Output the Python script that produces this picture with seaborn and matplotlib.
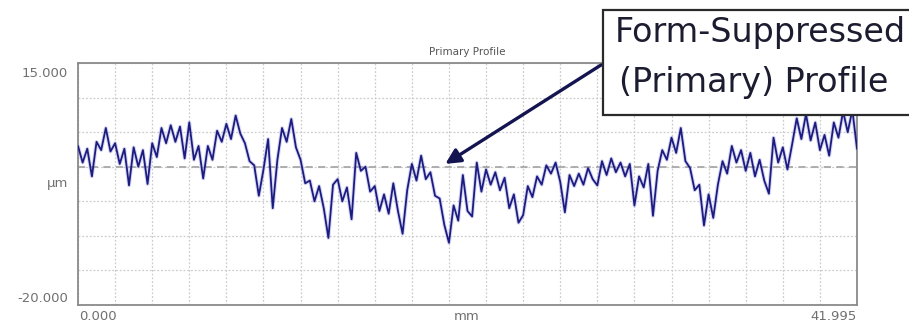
import numpy as np
import pandas as pd
import seaborn as sns
import matplotlib.pyplot as plt
from matplotlib.patches import Rectangle

profile_um = [
    3.0, 0.6, 2.6, -1.4, 3.6, 2.4, 5.6, 2.2,
    3.4, 0.4, 2.6, -2.7, 2.8, 0.0, 2.4, -2.5,
    3.4, 1.4, 5.6, 3.4, 6.0, 3.6, 5.8, 1.2,
    6.4, 1.0, 3.0, -1.7, 3.0, 1.0, 5.2, 3.6,
    6.2, 4.0, 7.4, 4.8, 3.4, 0.8, 0.2, -4.2,
    -0.4, 4.0, -6.0, 1.0, 5.6, 3.6, 6.9, 2.8,
    1.0, -2.4, -2.0, -5.0, -2.8, -6.0, -10.3, -2.6,
    -1.8, -5.0, -3.0, -7.6, 2.0, -0.6, 0.0, -3.6,
    -2.8, -6.4, -4.0, -6.8, -2.4, -6.4, -9.7, -3.4,
    0.4, -2.0, 1.6, -1.8, -0.8, -4.2, -4.6, -8.4,
    -11.0, -5.6, -7.8, -1.2, -6.4, -7.2, 0.6, -3.6,
    -0.4, -2.6, -0.8, -3.4, -1.6, -6.0, -4.0, -8.1,
    -7.0, -2.8, -4.4, -1.4, -2.6, 0.2, -1.0, 0.6,
    -2.2, -6.6, -1.2, -2.8, -1.0, -2.6, -0.2, -1.8,
    -2.7, 0.8, -1.2, 1.2, -0.8, 0.6, -1.4, 0.4,
    -5.6, -1.4, -3.0, 0.4, -7.1, -0.6, 2.4, 1.0,
    4.2, 2.0, 5.6, 0.8, -0.2, -3.4, -2.6, -8.5,
    -4.0, -7.4, -2.6, 0.8, -1.0, 3.0, 0.6, 2.4,
    -0.6, 2.0, -1.4, 1.0, -2.0, -3.9, 4.2, 0.6,
    2.8, -0.4, 3.2, 7.0, 4.0, 7.6, 3.8, 6.4,
    2.4, 4.6, 1.6, 6.4, 4.2, 8.0, 5.0, 8.2, 2.6,
]
x_start_mm = 0.0
x_end_mm = 41.995
y_min_um = -20.0
y_max_um = 15.0

df = pd.DataFrame({
    "mm": np.linspace(x_start_mm, x_end_mm, len(profile_um)),
    "um": profile_um,
})

sns.set_style("white")
plt.rcParams["font.family"] = ["DejaVu Sans"]

fig = plt.figure(figsize=(9.09, 3.25), dpi=100)
ax = fig.add_axes([78 / 909, 20 / 325, 779 / 909, 242 / 325])

# faint halo under the trace, then the dark trace itself
sns.lineplot(data=df, x="mm", y="um", ax=ax, color="#7a7ad8", lw=2.8, alpha=0.3,
             estimator=None, sort=False, zorder=3)
sns.lineplot(data=df, x="mm", y="um", ax=ax, color="#1c1c80", lw=1.3,
             estimator=None, sort=False, zorder=4)

ax.set_xlim(x_start_mm, x_end_mm)
ax.set_ylim(y_min_um, y_max_um)

# dotted grid, 21 x 7 cells
ax.set_xticks(np.linspace(x_start_mm, x_end_mm, 22))
ax.set_yticks(np.arange(y_min_um, y_max_um + 1, 5))
ax.set_xticklabels([])
ax.set_yticklabels([])
ax.tick_params(length=0)
ax.grid(True, color="#cccccc", ls=(0, (1.5, 1.5)), lw=0.9)
ax.axhline(0, color="#a8a8a8", ls=(0, (4, 3)), lw=1.3, zorder=2)
ax.set_xlabel("")
ax.set_ylabel("")

for s in ax.spines.values():
    s.set_color("#8a8a8a")
    s.set_linewidth(1.3)

# axis texts
grey = "#707070"
fs = 9.5
fig.text(68 / 909, 1 - 73 / 325, "15.000", ha="right", va="center", fontsize=fs, color=grey)
fig.text(68 / 909, 1 - 298 / 325, "-20.000", ha="right", va="center", fontsize=fs, color=grey)
fig.text(58 / 909, 1 - 184 / 325, "µm", ha="center", va="center", fontsize=fs, color=grey)
fig.text(79 / 909, 1 - 317 / 325, "0.000", ha="left", va="center", fontsize=fs, color=grey)
fig.text(467 / 909, 1 - 317 / 325, "mm", ha="center", va="center", fontsize=fs, color=grey)
fig.text(857 / 909, 1 - 317 / 325, "41.995", ha="right", va="center", fontsize=fs, color=grey)
fig.text(467 / 909, 1 - 52 / 325, "Primary Profile", ha="center", va="center", fontsize=7.5, color="#555555")

# callout box (runs off the right edge like the original)
box = Rectangle((603 / 909, 1 - 115 / 325), 320 / 909, 105 / 325, transform=fig.transFigure,
                facecolor="white", edgecolor="#2a2a2a", lw=1.6, zorder=5)
fig.add_artist(box)
fig.text(760 / 909, 1 - 42 / 325, "Form-Suppressed", ha="center", va="baseline",
         fontsize=24, color="#1c1c30", zorder=6)
fig.text(754 / 909, 1 - 92 / 325, "(Primary) Profile", ha="center", va="baseline",
         fontsize=24, color="#1c1c30", zorder=6)

ax.annotate("", xy=(19.8, 0.4), xycoords="data",
            xytext=(601, 325 - 65), textcoords="figure pixels",
            arrowprops=dict(arrowstyle="-|>,head_length=0.9,head_width=0.45",
                            color="#141450", lw=2.4, shrinkA=0, shrinkB=0),
            annotation_clip=False, zorder=7)

fig.savefig("out.png", dpi=100)
